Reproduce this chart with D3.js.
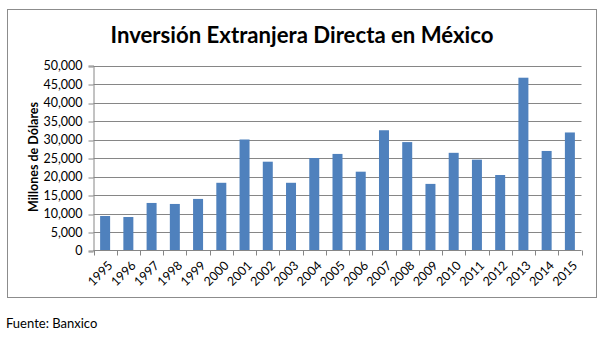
<!DOCTYPE html>
<html><head><meta charset="utf-8">
<script src="https://cdn.jsdelivr.net/npm/d3@7"></script>
<style>body{margin:0;background:#fff}svg{display:block}</style>
</head><body>
<script>
const years = ["1995","1996","1997","1998","1999","2000","2001","2002","2003","2004","2005","2006","2007","2008","2009","2010","2011","2012","2013","2014","2015"];
const values = [9320,9050,12850,12580,13940,18300,30000,24000,18300,25000,26100,21300,32500,29300,18000,26400,24550,20400,46700,26900,31900];
const yTicks = [0,5000,10000,15000,20000,25000,30000,35000,40000,45000,50000];
const title = "Inversión Extranjera Directa en México";
const yTitle = "Millones de Dólares";
const source = "Fuente: Banxico";

const W = 604, H = 337;
const font = "Lato, 'Open Sans', sans-serif";
const svg = d3.select("body").append("svg").attr("width", W).attr("height", H);
svg.append("rect").attr("width", W).attr("height", H).attr("fill", "#fff");

// frame
svg.append("rect").attr("x", 7.5).attr("y", 9.5).attr("width", 589).attr("height", 288)
  .attr("fill", "none").attr("stroke", "#8c8c8c").attr("stroke-width", 1);

const x = d3.scaleBand().domain(years).range([93.5, 581.5]).paddingInner(0.57).paddingOuter(0.285);
const y = d3.scaleLinear().domain([0, 50000]).range([250.5, 65.5]);

// gridlines
svg.append("g").selectAll("line").data(yTicks.filter(d => d > 0)).join("line")
  .attr("x1", 93.5).attr("x2", 581.5)
  .attr("y1", d => Math.round(y(d)) + 0.5).attr("y2", d => Math.round(y(d)) + 0.5)
  .attr("stroke", "#868686").attr("stroke-width", 1);

// bars
svg.append("g").selectAll("rect").data(values).join("rect")
  .attr("x", (d, i) => x(years[i]))
  .attr("width", x.bandwidth())
  .attr("y", d => y(d))
  .attr("height", d => y(0) - y(d))
  .attr("fill", "#4f81bd");

// y axis
const yAxis = svg.append("g").attr("transform", "translate(93.5,0)")
  .call(d3.axisLeft(y).tickValues(yTicks).tickFormat(d3.format(",")).tickSize(5).tickPadding(6));
yAxis.selectAll("line").attr("stroke", "#868686").attr("transform", d => `translate(0,${Math.round(y(d)) + 0.5 - y(d)})`);
yAxis.select(".domain").attr("stroke", "#868686");
yAxis.selectAll("text").attr("font-family", font).attr("font-size", 12.5).attr("fill", "#000");

// x axis
const step = x.step();
const bounds = d3.range(years.length + 1).map(i => 93.5 + i * step);
const xg = svg.append("g");
xg.append("line").attr("x1", 93.5).attr("x2", 581.5).attr("y1", 250.5).attr("y2", 250.5).attr("stroke", "#868686");
xg.selectAll("line.tk").data(bounds).join("line").attr("class", "tk")
  .attr("x1", d => Math.round(d) + 0.5).attr("x2", d => Math.round(d) + 0.5)
  .attr("y1", 250.5).attr("y2", 255.5).attr("stroke", "#868686");
xg.selectAll("text").data(years).join("text")
  .attr("transform", d => `translate(${x(d) + x.bandwidth() / 2 + 2},${260}) rotate(-45)`)
  .attr("text-anchor", "end").attr("dy", "0.71em")
  .attr("font-family", font).attr("font-size", 12.5).attr("fill", "#000")
  .text(d => d);

// title
svg.append("text").attr("x", 302).attr("y", 43).attr("text-anchor", "middle")
  .attr("font-family", font).attr("font-weight", "bold").attr("font-size", 22)
  .attr("textLength", 383).attr("lengthAdjust", "spacingAndGlyphs")
  .attr("fill", "#000").text(title);

// y title
svg.append("text").attr("transform", "translate(38,157) rotate(-90)").attr("text-anchor", "middle")
  .attr("font-family", font).attr("font-weight", "bold").attr("font-size", 12.5)
  .attr("fill", "#000").text(yTitle);

// source
svg.append("text").attr("x", 6).attr("y", 328)
  .attr("font-family", font).attr("font-size", 13).attr("fill", "#000").text(source);
</script>
</body></html>
